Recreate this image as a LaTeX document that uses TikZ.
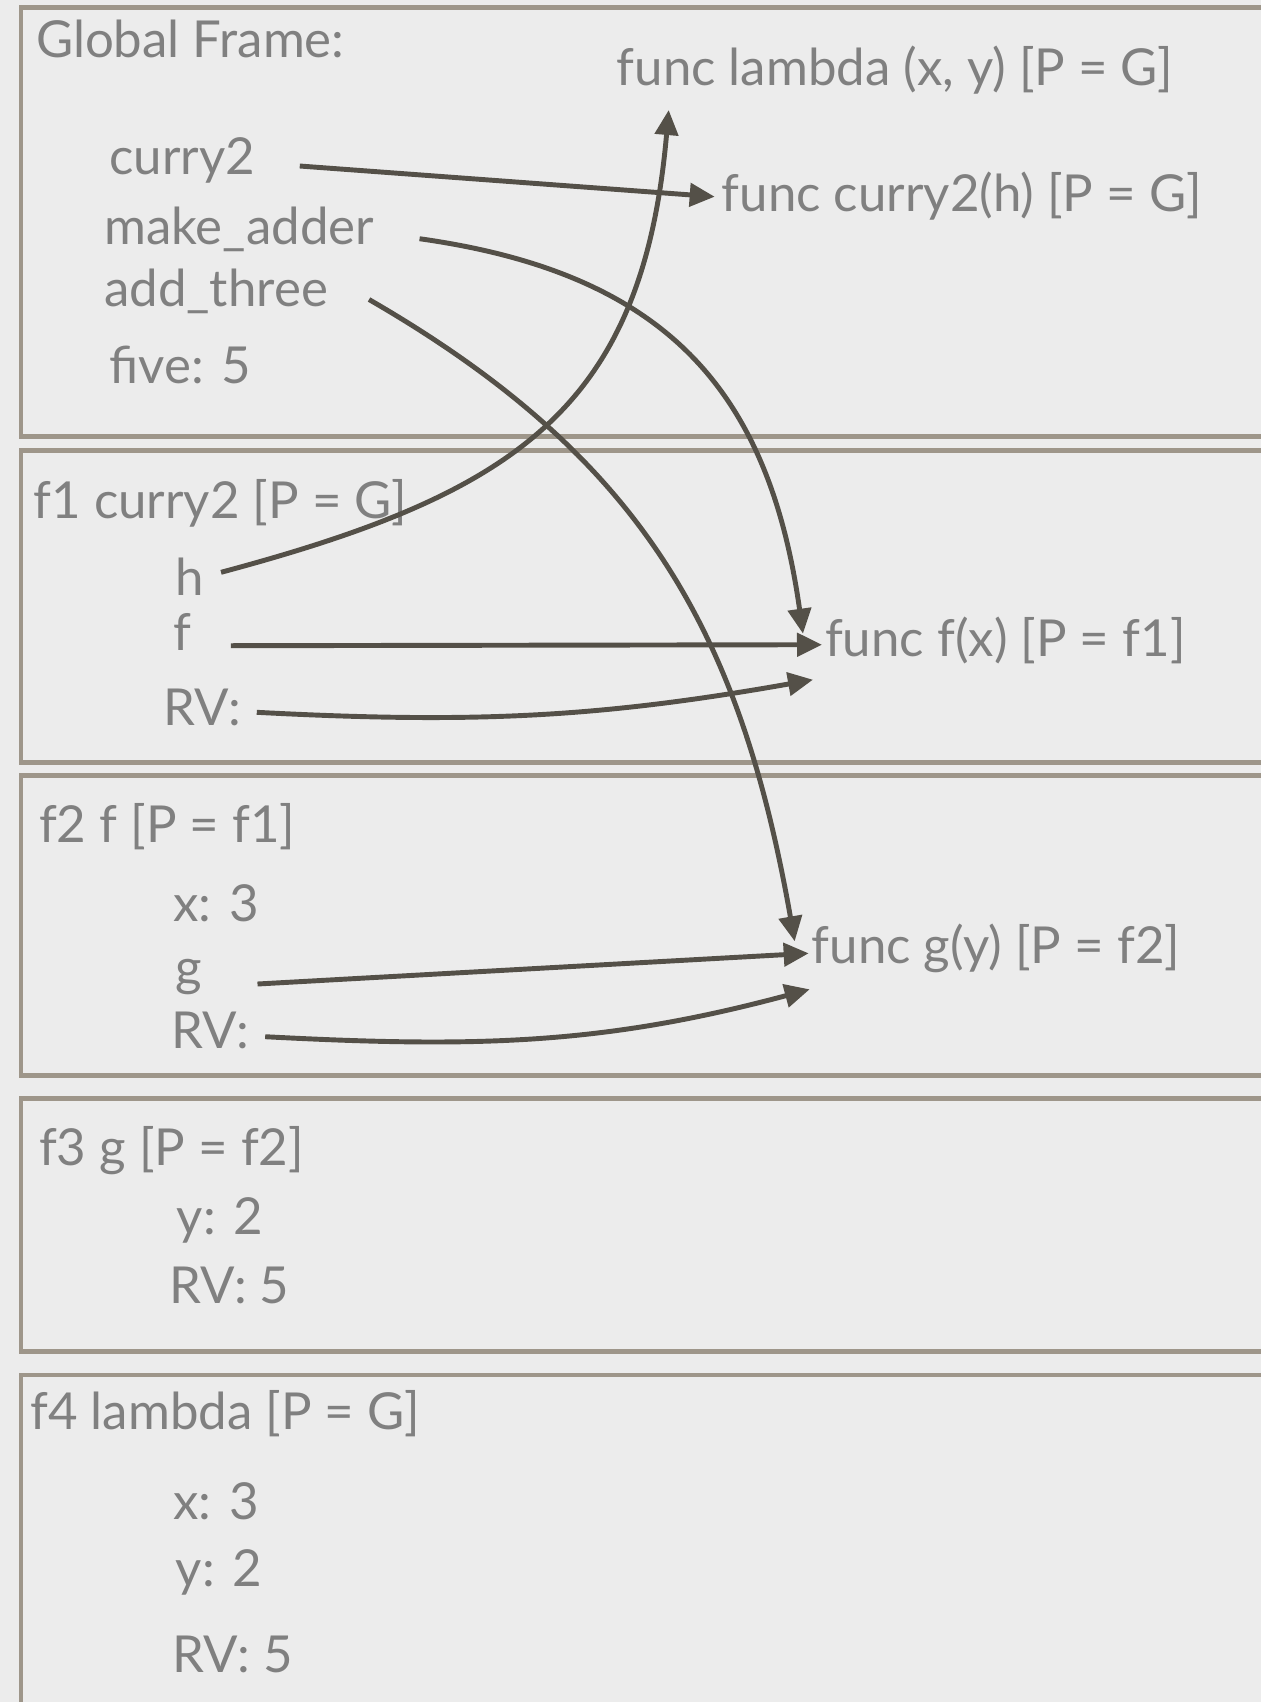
\documentclass[tikz,border=0pt]{standalone}
\usepackage{fontspec}
\setmainfont{Lato}
\usetikzlibrary{positioning,arrows.meta}
\definecolor{paper}{RGB}{236,236,236}
\definecolor{framec}{RGB}{158,150,138}
\definecolor{inkgray}{RGB}{128,128,128}
\definecolor{arrowc}{RGB}{84,80,72}
\tikzset{
  framebox/.style={draw=framec, line width=1.4pt},
  lbl/.style={anchor=base west, inner sep=0pt, outer sep=0pt, text=inkgray, font=\fontsize{14.5}{17}\selectfont},
  arrow/.style={-{Triangle[length=2.5mm, width=2.3mm]}, line width=1.4pt, draw=arrowc}
}
\begin{document}
\begin{tikzpicture}
  \useasboundingbox (0,0) rectangle (12.61,-17.02);
  \fill[paper] (0,0) rectangle (12.61,-17.02);
  \clip (0,0) rectangle (12.61,-17.02);
  \draw[framebox] (0.21,-0.076) rectangle (13,-4.363);
  \draw[framebox] (0.21,-4.504) rectangle (13,-7.629);
  \draw[framebox] (0.21,-7.759) rectangle (13,-10.754);
  \draw[framebox] (0.21,-10.982) rectangle (13,-13.511);
  \draw[framebox] (0.21,-13.75) rectangle (13,-17.4);
  \node[lbl] (glob) at (0.36,-0.575) {Global Frame:};
  \node[lbl] (flam) at (6.167,-0.85) {func lambda (x, y) [P = G]};
  \node[lbl] (cur) at (1.096,-1.747) {curry2};
  \node[lbl] (fcur) at (7.217,-2.117) {func curry2(h) [P = G]};
  \node[lbl] (mka) at (1.042,-2.442) {make\_adder};
  \node[lbl] (add) at (1.042,-3.06) {add\_three};
  \node[lbl] (five) at (1.096,-3.83) {five: 5};
  \node[lbl] (fone) at (0.336,-5.187) {f1 curry2 [P = G]};
  \node[lbl] (h) at (1.76,-5.95) {h};
  \node[lbl] (f) at (1.73,-6.5) {f};
  \node[lbl] (rvone) at (1.633,-7.25) {RV:};
  \node[lbl] (fx) at (8.25,-6.567) {func f(x) [P = f1]};
  \node[lbl] (ftwo) at (0.391,-8.42) {f2 f [P = f1]};
  \node[lbl] (xtwo) at (1.736,-9.21) {x: 3};
  \node[lbl] (g) at (1.76,-9.85) {g};
  \node[lbl] (rvtwo) at (1.717,-10.483) {RV:};
  \node[lbl] (fg) at (8.117,-9.633) {func g(y) [P = f2]};
  \node[lbl] (fthree) at (0.391,-11.655) {f3 g [P = f2]};
  \node[lbl] (ythree) at (1.769,-12.34) {y: 2};
  \node[lbl] (rvthree) at (1.693,-13.033) {RV: 5};
  \node[lbl] (ffour) at (0.304,-14.292) {f4 lambda [P = G]};
  \node[lbl] (xfour) at (1.736,-15.193) {x: 3};
  \node[lbl] (yfour) at (1.758,-15.865) {y: 2};
  \node[lbl] (rvfour) at (1.725,-16.723) {RV: 5};
  \draw[arrow] ([xshift=0.445cm,yshift=0.087cm]cur.base east) -- ([xshift=-0.07cm,yshift=0.15cm]fcur.base west);
  \draw[arrow] ([xshift=0.455cm,yshift=0.055cm]mka.base east) to[out=-8,in=98,looseness=1.15] ([xshift=-0.22cm,yshift=0.23cm]fx.base west);
  \draw[arrow] ([xshift=0.41cm,yshift=0.065cm]add.base east) to[out=-30,in=100,looseness=1.05] ([xshift=-0.17cm,yshift=0.22cm]fg.base west);
  \draw[arrow] ([xshift=0.166cm,yshift=0.227cm]h.base east) to[out=15,in=-95,looseness=1.2] ([xshift=0.52cm,yshift=-0.25cm]flam.base west);
  \draw[arrow] ([xshift=0.4cm,yshift=0.043cm]f.base east) -- ([xshift=-0.03cm,yshift=0.12cm]fx.base west);
  \draw[arrow] ([xshift=0.16cm,yshift=0.127cm]rvone.base east) to[out=-3,in=190] ([xshift=-0.12cm,yshift=-0.23cm]fx.base west);
  \draw[arrow] ([xshift=0.55cm,yshift=0.01cm]g.base east) -- ([xshift=-0.03cm,yshift=0.1cm]fg.base west);
  \draw[arrow] ([xshift=0.16cm,yshift=0.116cm]rvtwo.base east) to[out=-3,in=195] ([xshift=-0.02cm,yshift=-0.26cm]fg.base west);
\end{tikzpicture}
\end{document}
